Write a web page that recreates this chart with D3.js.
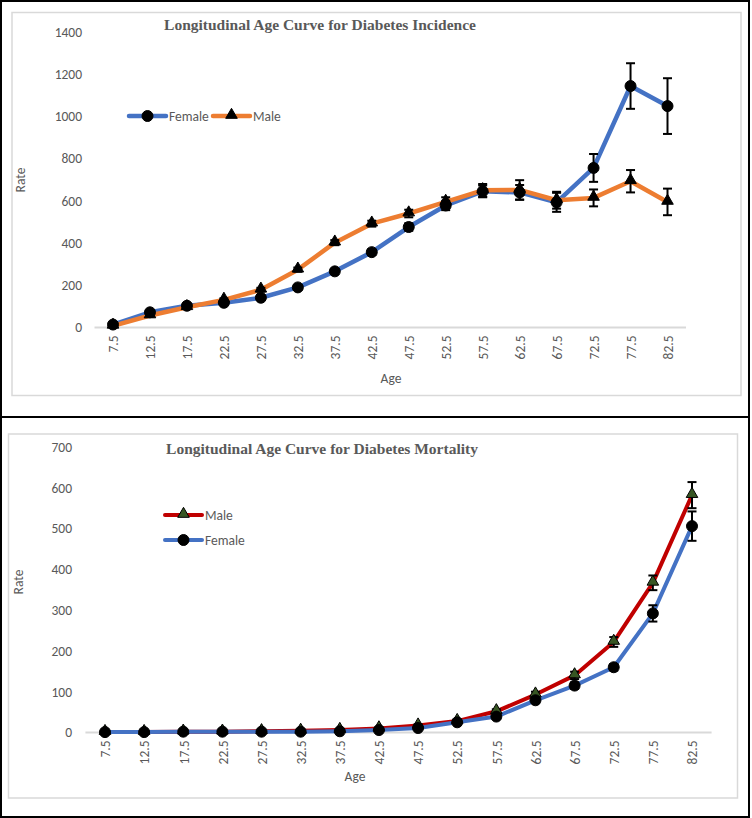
<!DOCTYPE html>
<html>
<head>
<meta charset="utf-8">
<script src="https://cdn.jsdelivr.net/npm/d3@7"></script>
<style>
  html, body { margin: 0; padding: 0; background: #fff; }
  svg { display: block; }
</style>
</head>
<body>
<svg id="chart" width="752" height="818"></svg>
<script>
// ---------- DATA ----------
const ages = ["7.5","12.5","17.5","22.5","27.5","32.5","37.5","42.5","47.5","52.5","57.5","62.5","67.5","72.5","77.5","82.5"];

// Incidence
const incFemale    = [14, 72, 103, 117, 141, 190, 266, 357, 476, 578, 645, 640, 593, 756, 1144, 1049];
const incFemaleErr = [4, 6, 7, 8, 9, 10, 12, 14, 18, 22, 28, 35, 45, 66, 108, 132];
const incMale      = [8, 57, 96, 131, 179, 274, 402, 492, 540, 595, 650, 652, 603, 614, 693, 595];
const incMaleErr   = [3, 5, 6, 7, 9, 10, 12, 14, 18, 22, 30, 46, 40, 40, 53, 63];
const incTicks     = [0, 200, 400, 600, 800, 1000, 1200, 1400];

// Mortality
const mortMale      = [1, 1, 2, 2, 3, 4, 6, 10, 17, 28, 52, 93, 140, 222, 367, 582];
const mortMaleErr   = [0.5, 0.5, 0.6, 0.7, 0.8, 1, 1.5, 2, 3, 4, 5, 7, 9, 12, 18, 32];
const mortFemale    = [1, 1, 2, 2, 2, 2, 3, 6, 11, 25, 39, 79, 115, 160, 292, 506];
const mortFemaleErr = [0.5, 0.5, 0.6, 0.6, 0.7, 0.8, 1, 1.5, 2, 3, 4, 6, 8, 8, 20, 36];
const mortTicks     = [0, 100, 200, 300, 400, 500, 600, 700];

const titles = ["Longitudinal Age Curve for Diabetes Incidence", "Longitudinal Age Curve for Diabetes Mortality"];

// ---------- DRAW ----------
const svg = d3.select("#chart");
const TICK_FONT = "Carlito, 'Liberation Sans Narrow', Lato, sans-serif";
const FS = 13.5;
const GRAY_TXT = "#595959";
const AXIS_GRAY = "#d9d9d9";

function drawPanel(cfg) {
  const g = svg.append("g");
  g.append("rect").attr("x", cfg.frame[0]).attr("y", cfg.frame[1])
    .attr("width", cfg.frame[2]).attr("height", cfg.frame[3])
    .attr("fill", "none").attr("stroke", "#000").attr("stroke-width", 2);
  g.append("rect").attr("x", cfg.area[0]).attr("y", cfg.area[1])
    .attr("width", cfg.area[2]).attr("height", cfg.area[3])
    .attr("fill", "#fff").attr("stroke", AXIS_GRAY).attr("stroke-width", 1.5);

  const x = d3.scalePoint().domain(ages).range(cfg.xRange);
  const step = x.step();
  const y = d3.scaleLinear().domain([0, cfg.ticks[cfg.ticks.length - 1]]).range(cfg.yRange);

  g.append("text").attr("x", cfg.titlePos[0]).attr("y", cfg.titlePos[1])
    .attr("text-anchor", "middle").attr("font-family", "'Liberation Serif', 'Times New Roman', serif")
    .attr("font-weight", "bold").attr("font-size", 15.5).attr("fill", GRAY_TXT)
    .text(cfg.title);

  const yAxis = d3.axisLeft(y).tickValues(cfg.ticks).tickFormat(d3.format("d")).tickSize(0).tickPadding(0);
  const ya = g.append("g").attr("transform", `translate(${cfg.yLabelX},0)`).call(yAxis);
  ya.select(".domain").remove();
  ya.selectAll("text").attr("font-family", TICK_FONT).attr("font-size", FS).attr("fill", GRAY_TXT);

  const xa = g.append("g").attr("transform", `translate(0,${cfg.yRange[0]})`)
    .call(d3.axisBottom(x).tickSize(0).tickPadding(0));
  xa.select(".domain").attr("d", `M${cfg.xRange[0] - step / 2},0H${cfg.xRange[1] + step / 2}`)
    .attr("stroke", AXIS_GRAY).attr("stroke-width", 2);
  xa.selectAll("text").attr("font-family", TICK_FONT).attr("font-size", FS).attr("fill", GRAY_TXT)
    .attr("transform", "rotate(-90)").attr("text-anchor", "end").attr("dy", "0.35em")
    .attr("x", -8).attr("y", 0);

  g.append("text").attr("x", cfg.ageLabel[0]).attr("y", cfg.ageLabel[1]).attr("text-anchor", "middle")
    .attr("font-family", TICK_FONT).attr("font-size", FS).attr("fill", GRAY_TXT).text("Age");
  g.append("text").attr("transform", `translate(${cfg.rateLabel[0]},${cfg.rateLabel[1]}) rotate(-90)`)
    .attr("text-anchor", "middle").attr("font-family", TICK_FONT).attr("font-size", FS)
    .attr("fill", GRAY_TXT).text("Rate");

  const line = d3.line().x((d, i) => x(ages[i])).y(d => y(d));

  cfg.series.forEach(s => {
    g.append("path").datum(s.values).attr("d", line).attr("fill", "none")
      .attr("stroke", s.color).attr("stroke-width", s.width).attr("stroke-linejoin", "round");
  });
  cfg.series.forEach(s => {
    const eb = g.append("g");
    s.values.forEach((v, i) => {
      const cx = x(ages[i]);
      const y1 = y(v + s.err[i]), y0 = y(v - s.err[i]);
      eb.append("line").attr("x1", cx).attr("x2", cx).attr("y1", y1).attr("y2", y0)
        .attr("stroke", "#000").attr("stroke-width", 2);
      [y0, y1].forEach(yy => eb.append("line").attr("x1", cx - 4.5).attr("x2", cx + 4.5)
        .attr("y1", yy).attr("y2", yy).attr("stroke", "#000").attr("stroke-width", 2));
    });
    drawMarkers(g, s, s.values.map((v, i) => [x(ages[i]), y(v)]));
  });

  cfg.series.forEach(s => {
    const [lx, ly] = s.legend;
    g.append("line").attr("x1", lx).attr("x2", lx + 37).attr("y1", ly).attr("y2", ly)
      .attr("stroke", s.color).attr("stroke-width", s.width).attr("stroke-linecap", "round");
    drawMarkers(g, s, [[lx + 18.5, ly]]);
    g.append("text").attr("x", lx + 40).attr("y", ly).attr("dy", "0.35em")
      .attr("font-family", TICK_FONT).attr("font-size", FS).attr("fill", GRAY_TXT).text(s.name);
  });
}

function drawMarkers(g, s, pts) {
  if (s.marker === "circle") {
    g.selectAll(null).data(pts).join("circle").attr("cx", d => d[0]).attr("cy", d => d[1])
      .attr("r", s.msize).attr("fill", s.mfill).attr("stroke", "#000").attr("stroke-width", 1);
  } else {
    const sym = d3.symbol().type(d3.symbolTriangle).size(s.msize);
    g.selectAll(null).data(pts).join("path").attr("d", sym)
      .attr("transform", d => `translate(${d[0]},${d[1] - 1})`)
      .attr("fill", s.mfill).attr("stroke", "#000").attr("stroke-width", 1);
  }
}

drawPanel({
  frame: [1, 1, 748, 416],
  area: [12, 12.5, 729, 383],
  xRange: [113, 667.5],
  yRange: [327.5, 32],
  ticks: incTicks,
  yLabelX: 82,
  titlePos: [320, 30],
  title: titles[0],
  ageLabel: [391, 383],
  rateLabel: [25, 180],
  series: [
    { name: "Female", values: incFemale, err: incFemaleErr, color: "#4472C4", width: 4.5,
      marker: "circle", msize: 5.5, mfill: "#000", legend: [129, 116] },
    { name: "Male", values: incMale, err: incMaleErr, color: "#ED7D31", width: 4.5,
      marker: "triangle", msize: 58, mfill: "#000", legend: [213, 116] }
  ]
});

drawPanel({
  frame: [1, 417, 748, 400],
  area: [8.5, 434, 729, 364],
  xRange: [105, 692],
  yRange: [732.5, 447],
  ticks: mortTicks,
  yLabelX: 72,
  titlePos: [322, 454],
  title: titles[1],
  ageLabel: [355, 781],
  rateLabel: [23, 582],
  series: [
    { name: "Male", values: mortMale, err: mortMaleErr, color: "#C00000", width: 4,
      marker: "triangle", msize: 58, mfill: "#375623", legend: [165, 515] },
    { name: "Female", values: mortFemale, err: mortFemaleErr, color: "#4472C4", width: 4,
      marker: "circle", msize: 5.5, mfill: "#000", legend: [165, 540] }
  ]
});
</script>
</body>
</html>
